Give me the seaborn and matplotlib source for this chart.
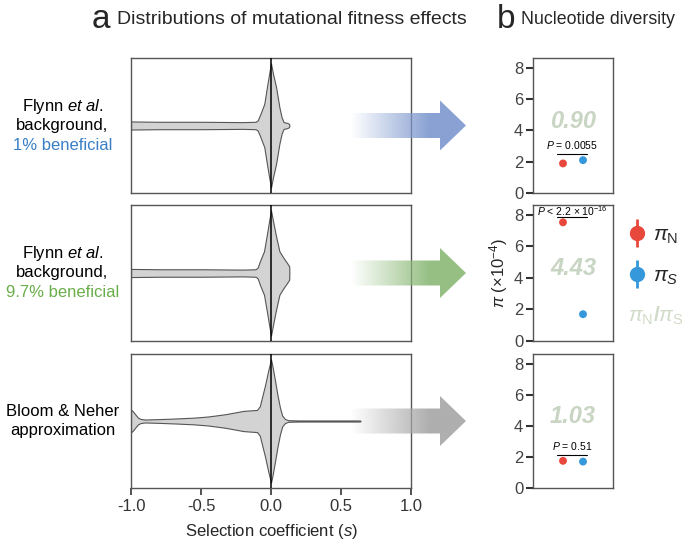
import numpy as np
import pandas as pd
import matplotlib
matplotlib.use("Agg")
import matplotlib.pyplot as plt
from matplotlib.lines import Line2D
from matplotlib.patches import Polygon
from matplotlib.legend_handler import HandlerTuple
import seaborn as sns

# violin outlines: selection coefficient s and half width
# (as a fraction of the panel half height)
flynn1_s = [-1.0, -0.8, -0.5, -0.2, -0.11, -0.095, -0.076, -0.048, -0.029, -0.013, 0.0,
            0.014, 0.036, 0.06, 0.076, 0.09, 0.115, 0.128, 0.132]
flynn1_w = [0.06, 0.055, 0.055, 0.05, 0.055, 0.075, 0.17, 0.32, 0.57, 0.77, 0.92,
            0.77, 0.57, 0.27, 0.12, 0.05, 0.04, 0.025, 0.0]

flynn97_s = [-1.0, -0.8, -0.5, -0.2, -0.11, -0.095, -0.08, -0.05, -0.029, -0.013, 0.0,
             0.014, 0.033, 0.06, 0.09, 0.114, 0.129, 0.13, 0.131]
flynn97_w = [0.06, 0.055, 0.055, 0.05, 0.055, 0.08, 0.17, 0.32, 0.57, 0.77, 0.92,
             0.77, 0.57, 0.32, 0.22, 0.15, 0.1, 0.1, 0.0]

bloom_s = [-1.0, -0.985, -0.97, -0.95, -0.93, -0.9, -0.8, -0.686, -0.55, -0.45, -0.33,
           -0.25, -0.2, -0.15, -0.1, -0.08, -0.067, -0.043, -0.019, 0.0,
           0.012, 0.029, 0.045, 0.064, 0.08, 0.1, 0.124, 0.2, 0.636, 0.64]
bloom_w = [0.17, 0.14, 0.10, 0.05, 0.03, 0.022, 0.028, 0.037, 0.05, 0.067, 0.1,
           0.13, 0.15, 0.158, 0.165, 0.22, 0.33, 0.53, 0.76, 0.92,
           0.8, 0.6, 0.4, 0.2, 0.08, 0.03, 0.012, 0.008, 0.008, 0.0]

# nucleotide diversity (x 10^-4)
pi_n = [1.89, 7.53, 1.75]
pi_s = [2.10, 1.70, 1.70]
ratios = ["0.90", "4.43", "1.03"]
p_labels = [r"$P$ = 0.0055", r"$P$ < 2.2 × 10$^{-16}$", r"$P$ = 0.51"]
p_text_y = [3.05, 8.25, 2.7]
p_line_y = [2.5, 7.85, 2.15]

row_labels = [["Flynn $\\it{et\\ al.}$", "background,", "1% beneficial"],
              ["Flynn $\\it{et\\ al.}$", "background,", "9.7% beneficial"],
              ["Bloom & Neher", "approximation", ""]]
row_colors = ["#3a7fc6", "#6aae4a", "black"]
arrow_colors = ["#7f99cf", "#8dba79", "#a8a8a8"]

sns.set_theme(style="white")
plt.rcParams["font.family"] = ["Liberation Sans", "DejaVu Sans"]
plt.rcParams["mathtext.fontset"] = "custom"
plt.rcParams["mathtext.rm"] = "Liberation Sans"
plt.rcParams["mathtext.it"] = "Liberation Sans:italic"
plt.rcParams["mathtext.bf"] = "Liberation Sans:bold"
plt.rcParams["axes.unicode_minus"] = False

W, H = 685, 543
fig = plt.figure(figsize=(W / 100, H / 100), dpi=100)

rows_y = [(58, 193), (205, 341), (354, 488)]
violins = [(flynn1_s, flynn1_w), (flynn97_s, flynn97_w), (bloom_s, bloom_w)]
spine_col = "#555555"

left_axes = []
right_axes = []
for i, (top, bot) in enumerate(rows_y):
    axl = fig.add_axes([131 / W, 1 - bot / H, 280 / W, (bot - top) / H])
    axr = fig.add_axes([533 / W, 1 - bot / H, 80 / W, (bot - top) / H])
    left_axes.append(axl)
    right_axes.append(axr)

    # violin
    s, w = violins[i]
    s = np.array(s)
    w = np.array(w)
    axl.fill_between(s, -w, w, color="#d3d3d3", edgecolor="#555555", linewidth=0.8, zorder=2)
    axl.axvline(0, color="black", lw=1.1, zorder=3)
    axl.set_xlim(-1, 1)
    axl.set_ylim(-1, 1)
    axl.set_yticks([])
    for sp in axl.spines.values():
        sp.set_color(spine_col)
        sp.set_linewidth(1)
    if i < 2:
        axl.set_xticks([])
    else:
        axl.set_xticks([-1.0, -0.5, 0.0, 0.5, 1.0])
        axl.set_xticklabels(["-1.0", "-0.5", "0.0", "0.5", "1.0"])
        axl.tick_params(axis="x", bottom=True, length=5, width=1.2, color="#333333",
                        labelsize=12, labelcolor="#333333", pad=3)
        axl.set_xlabel("Selection coefficient ($\\it{s}$)", fontsize=12, labelpad=6)

    # row labels
    for j, line in enumerate(row_labels[i]):
        col = row_colors[i] if j == 2 else "black"
        n = len([t for t in row_labels[i] if t])
        off = (j - (n - 1) / 2) * -19.5
        axl.annotate(line, xy=(-0.245, 0.5), xycoords="axes fraction",
                     xytext=(0, off * 0.72), textcoords="offset points",
                     ha="center", va="center", fontsize=12, color=col)

    # nucleotide diversity points
    df = pd.DataFrame({"x": [0, 1], "pi": [pi_n[i], pi_s[i]], "kind": ["N", "S"]})
    sns.scatterplot(data=df, x="x", y="pi", hue="kind",
                    palette={"N": "#e8483b", "S": "#3498db"},
                    s=32, edgecolor="none", legend=False, ax=axr, zorder=4)
    axr.set_xlim(-1.5, 2.5)
    axr.set_ylim(0, 8.63)
    axr.set_xticks([])
    axr.set_yticks([0, 2, 4, 6, 8])
    axr.tick_params(axis="y", left=True, length=5, width=1.5, color="#333333",
                    labelsize=12, labelcolor="#444444", pad=2)
    axr.set_xlabel("")
    axr.set_ylabel("")
    for sp in axr.spines.values():
        sp.set_color(spine_col)
        sp.set_linewidth(1)
    axr.text(0.5, 4.6, ratios[i], ha="center", va="center", fontsize=17,
             fontweight="bold", fontstyle="italic", color="#c9d5c3", zorder=1)
    axr.text(0.45, p_text_y[i], p_labels[i], ha="center", va="center", fontsize=7.5,
             color="black")
    axr.plot([-0.3, 1.2], [p_line_y[i], p_line_y[i]], color="black", lw=0.8)

right_axes[1].set_ylabel("$\\it{\\pi}$ (×10$^{-4}$)", fontsize=12, labelpad=3)

# legend for panel b
h_n = (Line2D([], [], color="#e8483b", marker="|", markersize=20, mew=2, ls="none"),
       Line2D([], [], color="#e8483b", marker="o", markersize=10, ls="none"))
h_s = (Line2D([], [], color="#3498db", marker="|", markersize=20, mew=2, ls="none"),
       Line2D([], [], color="#3498db", marker="o", markersize=10, ls="none"))
fig.legend([h_n, h_s], ["$\\pi_{\\mathrm{N}}$", "$\\pi_{S}$"],
           handler_map={tuple: HandlerTuple(ndivide=1)},
           loc="center left", bbox_to_anchor=(622 / W, 1 - 256 / H), frameon=False,
           borderaxespad=0, borderpad=0.2,
           fontsize=15, handlelength=1.0, handletextpad=0.3, labelspacing=1.0)
fig.text(656 / W, 1 - 316 / H, "$\\pi_{\\mathrm{N}}$/$\\pi_{\\mathrm{S}}$", ha="center",
         va="center", fontsize=15, color="#d0dbc9", fontweight="bold")

# titles
fig.text(92 / W, 1 - 19 / H, "a", fontsize=24, ha="left", va="center")
fig.text(117 / W, 1 - 20 / H, "Distributions of mutational fitness effects",
         fontsize=14, ha="left", va="center")
fig.text(497 / W, 1 - 19 / H, "b", fontsize=24, ha="left", va="center")
fig.text(521 / W, 1 - 20 / H, "Nucleotide diversity",
         fontsize=12.8, ha="left", va="center")

# gradient arrows linking the panels
over = fig.add_axes([0, 0, 1, 1], zorder=10)
over.set_xlim(0, W)
over.set_ylim(H, 0)
over.axis("off")
over.patch.set_alpha(0)
ramp = np.clip(np.linspace(-0.05, 1.35, 256), 0, 0.92)
for i, ax in enumerate(left_axes):
    pos = ax.get_position()
    cy = (1 - (pos.y0 + pos.height / 2)) * H
    x0, xb, xt, bh, hh = 347, 440, 466, 12.5, 25
    verts = [(x0, cy - bh), (xb, cy - bh), (xb, cy - hh), (xt, cy), (xb, cy + hh),
             (xb, cy + bh), (x0, cy + bh)]
    poly = Polygon(verts, closed=True, facecolor="none", edgecolor="none")
    over.add_patch(poly)
    rgb = matplotlib.colors.to_rgb(arrow_colors[i])
    img = np.zeros((1, 256, 4))
    img[..., :3] = rgb
    img[..., 3] = ramp
    im = over.imshow(img, extent=[x0, xt, cy + hh, cy - hh], aspect="auto",
                     interpolation="bilinear")
    im.set_clip_path(poly)

fig.savefig("out.png", dpi=100)
